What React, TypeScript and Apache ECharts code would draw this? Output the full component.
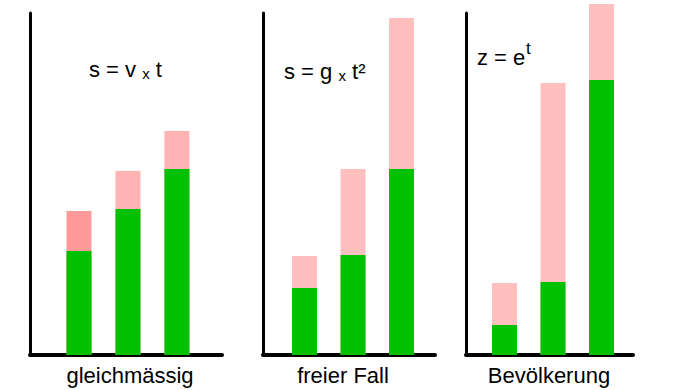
import React, { useEffect, useRef } from "react";
import * as echarts from "echarts";

// Categories (panels) and steps (bars per panel)
const categories = ["gleichmässig", "freier Fall", "Bevölkerung"];
const steps = [1, 2, 3];

// Values (arbitrary units, base = previous total, increment = growth)
const linearBase = [104, 146, 186];
const linearIncrement = [40, 38, 38];
const fallBase = [67, 100, 186];
const fallIncrement = [32, 86, 151];
const popBase = [30, 73, 275];
const popIncrement = [42, 199, 76];

const bases = [linearBase, fallBase, popBase];
const increments = [linearIncrement, fallIncrement, popIncrement];

const GREEN = "#00C000";
const incrementColors = [
  ["#FF9A9A", "#FFB3B3", "#FFB3B3"],
  ["#FFBFBF", "#FFBFBF", "#FFBFBF"],
  ["#FFBFBF", "#FFBFBF", "#FFBFBF"],
];

// layout per panel
const panels = [
  { left: 30, width: 192, min: 0, max: 3.92, labelX: 130 },
  { left: 263, width: 172, min: 0.144, max: 3.69, labelX: 343 },
  { left: 466, width: 167, min: 0.206, max: 3.65, labelX: 549 },
];

const FONT = "Liberation Sans, Arial, sans-serif";

export default function App() {
  const ref = useRef<HTMLDivElement>(null);

  useEffect(() => {
    if (!ref.current) return;
    const chart = echarts.init(ref.current, null, { renderer: "svg" });

    const grid = panels.map((p) => ({
      left: p.left,
      top: 13,
      width: p.width,
      height: 342,
      containLabel: false,
    }));

    const xAxis = panels.map((p, i) => ({
      type: "value",
      gridIndex: i,
      min: p.min,
      max: p.max,
      axisLine: { show: true, onZero: false, lineStyle: { color: "#000", width: 4 } },
      axisTick: { show: false },
      axisLabel: { show: false },
      splitLine: { show: false },
    }));

    const yAxis = panels.map((_, i) => ({
      type: "value",
      gridIndex: i,
      min: 0,
      max: 342,
      axisLine: { show: true, onZero: false, lineStyle: { color: "#000", width: 3 } },
      axisTick: { show: false },
      axisLabel: { show: false },
      splitLine: { show: false },
    }));

    const series: any[] = [];
    panels.forEach((_, i) => {
      // total (base + increment) in pink, drawn behind
      series.push({
        type: "bar",
        name: categories[i] + " Zuwachs",
        xAxisIndex: i,
        yAxisIndex: i,
        barWidth: 25,
        barGap: "-100%",
        clip: false,
        z: 2,
        data: steps.map((s, j) => ({
          value: [s, bases[i][j] + increments[i][j]],
          itemStyle: { color: incrementColors[i][j] },
        })),
      });
      // base in green, on top
      series.push({
        type: "bar",
        name: categories[i] + " Basis",
        xAxisIndex: i,
        yAxisIndex: i,
        barWidth: 25,
        barGap: "-100%",
        clip: false,
        z: 3,
        itemStyle: { color: GREEN },
        data: steps.map((s, j) => [s, bases[i][j]]),
      });
    });

    const labelTexts = panels.map((p, i) => ({
      type: "text",
      x: p.labelX,
      y: 375,
      style: {
        text: categories[i],
        font: `22px ${FONT}`,
        fill: "#000",
        align: "center",
        verticalAlign: "middle",
      },
    }));

    const formulaRich = {
      n: { fontSize: 22, fontFamily: FONT, color: "#000", verticalAlign: "bottom", lineHeight: 25 },
      x: { fontSize: 15, fontFamily: FONT, color: "#000", verticalAlign: "bottom", lineHeight: 22 },
    };

    const formulas = [
      {
        type: "text",
        x: 89,
        y: 68,
        style: {
          text: "{n|s = v }{x|x}{n| t}",
          rich: formulaRich,
          align: "left",
          verticalAlign: "middle",
        },
      },
      {
        type: "text",
        x: 284,
        y: 70,
        style: {
          text: "{n|s = g }{x|x}{n| t²}",
          rich: formulaRich,
          align: "left",
          verticalAlign: "middle",
        },
      },
      {
        type: "text",
        x: 477,
        y: 57,
        style: {
          text: "z = e",
          font: `22px ${FONT}`,
          fill: "#000",
          align: "left",
          verticalAlign: "middle",
        },
      },
      {
        type: "text",
        x: 526,
        y: 48,
        style: {
          text: "t",
          font: `17px ${FONT}`,
          fill: "#000",
          align: "left",
          verticalAlign: "middle",
        },
      },
    ];

    chart.setOption({
      animation: false,
      backgroundColor: "#fff",
      grid,
      xAxis,
      yAxis,
      series,
      graphic: [...labelTexts, ...formulas],
    });

    return () => chart.dispose();
  }, []);

  return (
    <div
      ref={ref}
      style={{ position: "absolute", left: 0, top: 0, width: 680, height: 390 }}
    />
  );
}
